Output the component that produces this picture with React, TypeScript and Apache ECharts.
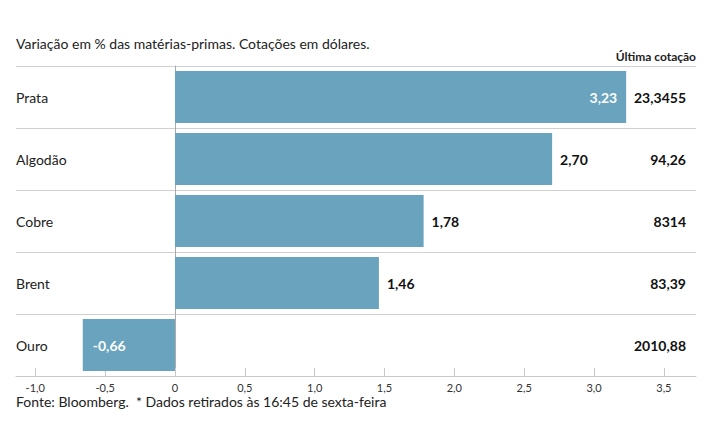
import React, { useEffect, useRef } from "react";
import * as echarts from "echarts";

const categories = ["Prata", "Algodão", "Cobre", "Brent", "Ouro"];
const changes = [3.23, 2.7, 1.78, 1.46, -0.66];
const lastQuotes = ["23,3455", "94,26", "8314", "83,39", "2010,88"];
const tickValues = [-1, -0.5, 0, 0.5, 1, 1.5, 2, 2.5, 3, 3.5];

const FONT = "Lato, 'Open Sans', sans-serif";
const fmt = (v: number, d: number) => (v === 0 ? "0" : v.toFixed(d).replace(".", ","));

export default function App() {
  const ref = useRef<HTMLDivElement>(null);
  useEffect(() => {
    const chart = echarts.init(ref.current!, null, { renderer: "svg" });
    chart.setOption({
      animation: false,
      textStyle: { fontFamily: FONT },
      grid: { left: 16, right: 19, top: 66, bottom: 69, containLabel: false },
      graphic: [
        {
          type: "text",
          left: 16,
          top: 36,
          style: { text: "Variação em % das matérias-primas. Cotações em dólares.", font: `14px ${FONT}`, fill: "#222" },
        },
        {
          type: "text",
          right: 19,
          top: 50,
          style: { text: "Última cotação", font: `bold 12px ${FONT}`, fill: "#222" },
        },
        {
          type: "text",
          left: 16,
          top: 394,
          style: { text: "Fonte: Bloomberg.  * Dados retirados às 16:45 de sexta-feira", font: `14px ${FONT}`, fill: "#222" },
        },
      ],
      xAxis: {
        type: "value",
        min: -1.138,
        max: 3.73,
        splitLine: { show: false },
        axisLine: { show: true, lineStyle: { color: "#c8c8c8", width: 1 } },
        axisTick: { show: true, inside: true, length: 8, customValues: tickValues, lineStyle: { color: "#c8c8c8" } },
        axisLabel: {
          customValues: tickValues,
          formatter: (v: number) => fmt(v, 1),
          color: "#333",
          fontSize: 11,
          margin: 6,
          fontFamily: FONT,
        },
      },
      yAxis: [
        {
          type: "category",
          data: categories,
          inverse: true,
          axisLine: { show: true, onZero: true, lineStyle: { color: "#aaa" } },
          axisTick: { show: false },
          axisLabel: { show: false },
          splitLine: { show: true, lineStyle: { color: "#d0d0d0" } },
        },
        {
          type: "category",
          data: categories,
          inverse: true,
          position: "left",
          axisLine: { show: false },
          axisTick: { show: false },
          splitLine: { show: false },
          axisLabel: { inside: true, margin: 0, color: "#222", fontSize: 14, fontFamily: FONT, align: "left" },
        },
        {
          type: "category",
          data: lastQuotes,
          inverse: true,
          position: "right",
          axisLine: { show: false },
          axisTick: { show: false },
          splitLine: { show: false },
          axisLabel: { inside: true, margin: 10, color: "#111", fontSize: 14, fontWeight: "bold", fontFamily: FONT, align: "right" },
        },
      ],
      series: [
        {
          type: "bar",
          yAxisIndex: 0,
          barCategoryGap: "16%",
          itemStyle: { color: "#69a3be" },
          data: changes.map((v, i) => {
            let label: any = { position: "right", distance: 8, color: "#111" };
            if (i === 0) label = { position: "insideRight", distance: 9, color: "#fff" };
            if (v < 0) label = { position: "insideLeft", distance: 10, color: "#fff" };
            return { value: v, label };
          }),
          label: {
            show: true,
            fontSize: 14,
            fontWeight: "bold",
            fontFamily: FONT,
            formatter: (p: any) => fmt(p.value, 2),
          },
        },
      ],
    });
    return () => chart.dispose();
  }, []);
  return <div ref={ref} style={{ width: 715, height: 445, margin: -8 }} />;
}
